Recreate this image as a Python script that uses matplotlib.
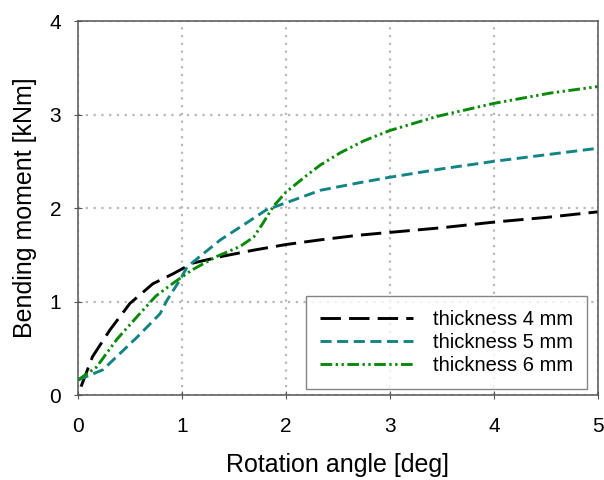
import numpy as np
import matplotlib.pyplot as plt

plt.rcParams['font.family'] = ['Liberation Sans', 'DejaVu Sans']

# thickness 4 mm
x4 = [0.03, 0.14, 0.31, 0.5, 0.72, 0.92, 1.1, 1.37, 1.69, 2.0, 2.33, 2.7, 3.0, 3.5, 4.0, 4.5, 5.0]
y4 = [0.09, 0.41, 0.70, 0.98, 1.19, 1.30, 1.41, 1.48, 1.55, 1.61, 1.66, 1.71, 1.74, 1.79, 1.85, 1.90, 1.96]

# thickness 5 mm
x5 = [0.0, 0.24, 0.57, 0.79, 0.86, 0.98, 1.05, 1.17, 1.37, 1.62, 1.81, 2.01, 2.33, 2.7, 3.0, 3.5, 4.0, 4.5, 5.0]
y5 = [0.16, 0.27, 0.62, 0.87, 1.02, 1.23, 1.37, 1.48, 1.66, 1.84, 1.98, 2.06, 2.19, 2.27, 2.33, 2.42, 2.50, 2.57, 2.64]

# thickness 6 mm
x6 = [0.0, 0.18, 0.37, 0.57, 0.75, 0.92, 1.1, 1.33, 1.56, 1.69, 1.78, 1.88, 2.0, 2.2, 2.33, 2.52, 2.75, 3.0, 3.45, 4.0, 4.54, 5.0]
y6 = [0.16, 0.30, 0.59, 0.84, 1.06, 1.20, 1.34, 1.48, 1.59, 1.69, 1.84, 2.02, 2.17, 2.35, 2.46, 2.59, 2.72, 2.83, 2.98, 3.12, 3.23, 3.30]

fig = plt.figure(figsize=(6.04, 4.8), dpi=100)
ax = fig.add_axes([0.129, 0.177, 0.861, 0.779])

ax.plot(x4, y4, color='black', lw=2.1, dashes=(7, 2.8), label='thickness 4 mm')
ax.plot(x5, y5, color='#138484', lw=2.1, dashes=(3.8, 1.9), label='thickness 5 mm')
ax.plot(x6, y6, color='#088a08', lw=2.1, dashes=(4, 1.2, 0.8, 1.2, 0.8, 1.2), label='thickness 6 mm')

ax.set_xlim(0, 5)
ax.set_ylim(0, 4)
ax.set_xticks([0, 1, 2, 3, 4, 5])
ax.set_yticks([0, 1, 2, 3, 4])
ax.grid(True, color='#b8b8b8', linestyle=(0, (1, 2.5)), lw=1.6)
ax.tick_params(direction='inout', labelsize=15, length=6, color='#555555')
ax.tick_params(axis='x', pad=13)
ax.tick_params(axis='y', pad=9)
for s in ax.spines.values():
    s.set_color('#555555')
    s.set_linewidth(1.1)

ax.set_xlabel('Rotation angle [deg]', fontsize=18, labelpad=12)
ax.set_ylabel('Bending moment [kNm]', fontsize=18, labelpad=9)

leg = ax.legend(loc='lower right', fontsize=14.5, frameon=True, fancybox=False,
                handlelength=4.6, handletextpad=1.0, labelspacing=0.2, borderpad=0.7,
                borderaxespad=0, bbox_to_anchor=(0.979, 0.016))
leg.get_frame().set_edgecolor('#666666')
leg.get_frame().set_linewidth(1)

fig.savefig('out.png', dpi=100)
